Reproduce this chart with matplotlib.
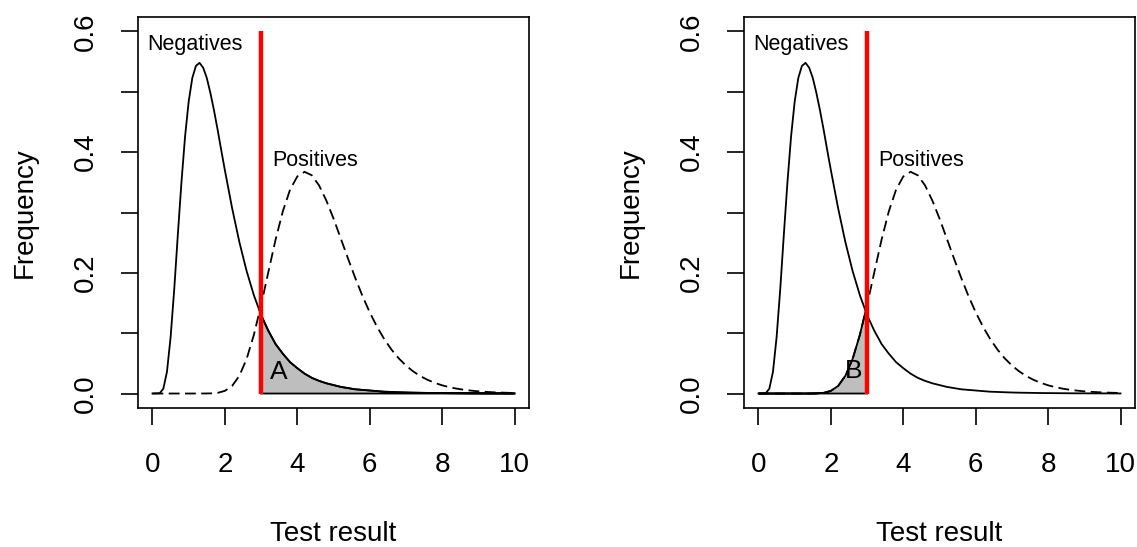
import numpy as np
import matplotlib.pyplot as plt

plt.rcParams['font.family'] = ['Liberation Sans', 'DejaVu Sans']

# density of negatives (solid)
neg_x = [0, 0.2] + [round(0.3 + 0.1 * i, 1) for i in range(17)] + [round(2.0 + 0.2 * i, 1) for i in range(41)]
neg_y = [0, 0.0005, 0.008, 0.036, 0.093, 0.172, 0.263, 0.350, 0.426, 0.484,
         0.523, 0.543, 0.548, 0.540, 0.523, 0.498, 0.469, 0.437, 0.403,
         0.370, 0.307, 0.251, 0.203, 0.163, 0.130, 0.104, 0.082, 0.066, 0.052,
         0.042, 0.033, 0.026, 0.021, 0.017, 0.014, 0.011, 0.009, 0.007, 0.006,
         0.005, 0.004, 0.003, 0.0026, 0.0021, 0.0017, 0.0014, 0.0012, 0.0010, 0.0008,
         0.0007, 0.0006, 0.0005, 0.0004, 0.0003, 0.0003, 0.0002, 0.0002, 0.0002, 0.0001,
         0.0001]

# density of positives (dashed)
pos_x = [round(0.2 * i, 1) for i in range(51)]
pos_y = [0, 0, 0, 0, 0, 0, 0, 0.00002, 0.0002, 0.0011,
         0.0044, 0.0126, 0.0294, 0.0573, 0.0971, 0.1466, 0.2012, 0.255, 0.3019, 0.3378,
         0.3597, 0.3674, 0.3617, 0.345, 0.3201, 0.290, 0.2571, 0.2238, 0.1916, 0.1616,
         0.1346, 0.1109, 0.0903, 0.0729, 0.0584, 0.0465, 0.0367, 0.0288, 0.0226, 0.0176,
         0.0136, 0.0105, 0.0081, 0.0062, 0.0048, 0.0036, 0.0028, 0.0021, 0.0016, 0.0012,
         0.0009]

cutoff = 3
panel_letters = ['A', 'B']
letter_x = [3.5, 2.64]
letter_y = [0.036, 0.038]

neg_x = np.array(neg_x); neg_y = np.array(neg_y)
pos_x = np.array(pos_x); pos_y = np.array(pos_y)

fig = plt.figure(figsize=(11.37, 5.47), dpi=100)
lefts = [138 / 1137, 744 / 1137]

for i, left in enumerate(lefts):
    ax = fig.add_axes([left, 1 - 408 / 547, 391 / 1137, 391 / 547])

    # shaded area
    if i == 0:
        m = neg_x >= cutoff
        px = np.concatenate([[cutoff], neg_x[m], [10]])
        py = np.concatenate([[0], neg_y[m], [0]])
    else:
        m = pos_x <= cutoff
        px = np.concatenate([[0], pos_x[m], [cutoff]])
        py = np.concatenate([[0], pos_y[m], [0]])
    ax.fill(px, py, facecolor='#bebebe', edgecolor='black', lw=1.3, zorder=1)

    ax.plot(neg_x, neg_y, color='black', lw=1.3, zorder=2)
    ax.plot(pos_x, pos_y, color='black', lw=1.3, ls=(0, (6, 3)), zorder=2)
    ax.plot([cutoff, cutoff], [0, 0.6], color='red', lw=3.2, zorder=3, solid_capstyle='butt')

    ax.text(1.17, 0.579, 'Negatives', fontsize=15.5, ha='center', va='center')
    ax.text(4.48, 0.387, 'Positives', fontsize=15.5, ha='center', va='center')
    ax.text(letter_x[i], letter_y[i], panel_letters[i], fontsize=19, ha='center', va='center')

    ax.set_xlim(-0.4, 10.4)
    ax.set_ylim(-0.024, 0.624)
    ax.set_xticks([0, 2, 4, 6, 8, 10])
    ax.set_yticks([0, 0.1, 0.2, 0.3, 0.4, 0.5, 0.6])
    ax.set_yticklabels(['0.0', '', '0.2', '', '0.4', '', '0.6'], rotation=90, va='center')
    ax.tick_params(axis='both', direction='out', length=12, width=1.2, labelsize=20)
    ax.tick_params(axis='x', pad=20)
    ax.tick_params(axis='y', pad=16)
    for s in ax.spines.values():
        s.set_linewidth(1.2)

    ax.set_xlabel('Test result', fontsize=20)
    ax.xaxis.set_label_coords(0.5, -0.322)
    ax.xaxis.label.set_va('center')
    ax.set_ylabel('Frequency', fontsize=20)
    ax.yaxis.set_label_coords(-0.289, 0.5)
    ax.yaxis.label.set_va('center')

fig.savefig('out.png', dpi=100)
